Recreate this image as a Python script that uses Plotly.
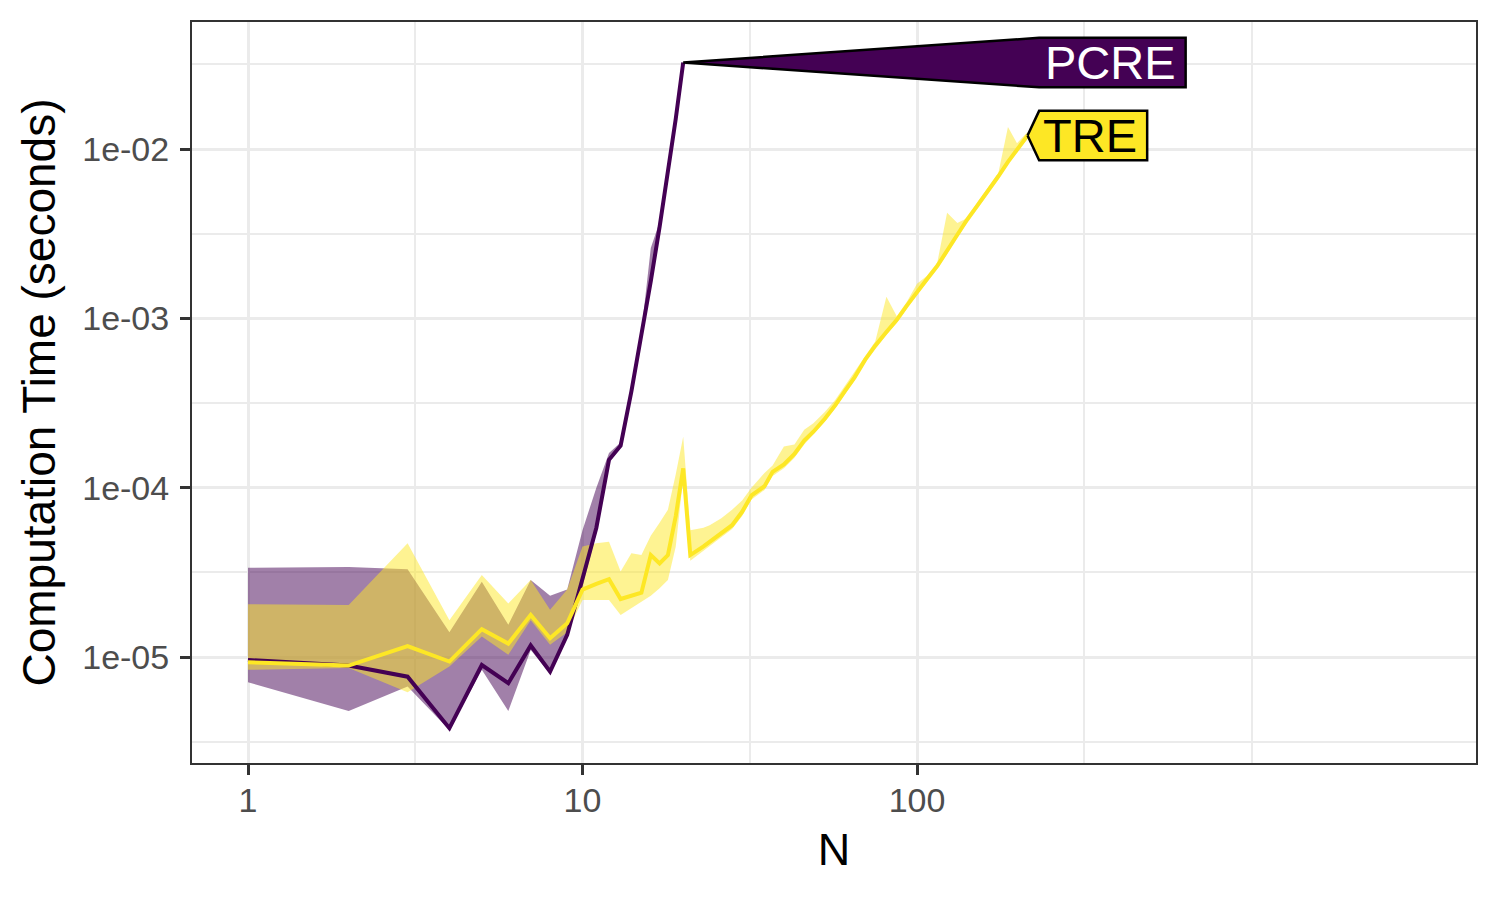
import numpy as np
import plotly.graph_objects as go

# timings (seconds): median with min/max band
n_pcre = [1, 2, 3, 4, 5, 6, 7, 8, 9, 10, 11, 12, 13, 14, 15, 16, 17, 18, 19, 20]
pcre_median = [9.6e-6, 8.9e-6, 7.65e-6, 3.8e-6, 8.97e-6, 7.0e-6, 1.17e-5, 8.2e-6, 1.35e-5, 2.9e-5,
               5.8e-5, 1.46e-4, 1.77e-4, 3.7e-4, 7.8e-4, 1.66e-3, 3.47e-3, 7.2e-3, 1.51e-2, 3.24e-2]
pcre_min = [7.1e-6, 4.8e-6, 6.7e-6, 3.7e-6, 8.4e-6, 4.8e-6, 1.1e-5, 8.0e-6, 1.3e-5, 2.6e-5,
            5.4e-5, 1.42e-4, 1.72e-4, 3.6e-4, 7.6e-4, 1.6e-3, 3.4e-3, 7.0e-3, 1.48e-2, 3.2e-2]
pcre_max = [3.36e-5, 3.4e-5, 3.3e-5, 1.4e-5, 2.78e-5, 1.55e-5, 2.85e-5, 2.3e-5, 2.5e-5, 5.6e-5,
            1.0e-4, 1.6e-4, 1.85e-4, 3.9e-4, 8.3e-4, 2.6e-3, 3.7e-3, 7.5e-3, 1.55e-2, 3.3e-2]

n_tre = [1, 2, 3, 4, 5, 6, 7, 8, 9, 10, 11, 12, 13, 14, 15, 16, 17, 18, 19, 20,
         21, 23, 24, 26, 28, 30, 32, 35, 37, 40, 43, 46, 49, 53, 57, 61, 65, 70, 75, 81,
         87, 93, 100, 107, 115, 123, 132, 141, 152, 163, 175, 187, 199, 214]
tre_median = [9.3e-6, 8.9e-6, 1.16e-5, 9.4e-6, 1.46e-5, 1.2e-5, 1.77e-5, 1.29e-5, 1.58e-5, 2.5e-5,
              2.7e-5, 2.88e-5, 2.2e-5, 2.3e-5, 2.4e-5, 4.0e-5, 3.57e-5, 4.0e-5, 6.8e-5, 1.3e-4,
              4.0e-5, 4.5e-5, 4.8e-5, 5.4e-5, 6.0e-5, 7.2e-5, 9.0e-5, 1.02e-4, 1.24e-4, 1.37e-4,
              1.58e-4, 1.9e-4, 2.14e-4, 2.55e-4, 3.07e-4, 3.74e-4, 4.47e-4, 5.7e-4, 6.9e-4, 8.3e-4,
              9.8e-4, 1.18e-3, 1.44e-3, 1.7e-3, 2.04e-3, 2.5e-3, 3.14e-3, 3.82e-3, 4.68e-3, 5.65e-3,
              6.9e-3, 8.4e-3, 1.0e-2, 1.2e-2]
tre_min = [8.4e-6, 8.6e-6, 6.2e-6, 8.8e-6, 1.32e-5, 1.03e-5, 1.65e-5, 1.18e-5, 1.4e-5, 2.17e-5,
           2.17e-5, 2.17e-5, 1.77e-5, 1.94e-5, 2.12e-5, 2.3e-5, 2.55e-5, 2.85e-5, 4.5e-5, 1.15e-4,
           3.7e-5, 4.2e-5, 4.5e-5, 5.1e-5, 5.7e-5, 6.8e-5, 8.5e-5, 9.7e-5, 1.17e-4, 1.3e-4,
           1.5e-4, 1.8e-4, 2.05e-4, 2.45e-4, 2.95e-4, 3.6e-4, 4.3e-4, 5.5e-4, 6.6e-4, 8.0e-4,
           9.4e-4, 1.13e-3, 1.38e-3, 1.63e-3, 1.96e-3, 2.4e-3, 3.02e-3, 3.67e-3, 4.5e-3, 5.43e-3,
           6.6e-3, 8.1e-3, 9.6e-3, 1.15e-2]
tre_max = [2.05e-5, 2.03e-5, 4.7e-5, 1.65e-5, 3.05e-5, 2.07e-5, 2.85e-5, 1.9e-5, 2.5e-5, 4.5e-5,
           4.7e-5, 4.8e-5, 3.2e-5, 4.1e-5, 4.0e-5, 5.2e-5, 6.2e-5, 7.4e-5, 1.2e-4, 2.0e-4,
           5.6e-5, 5.8e-5, 6.0e-5, 6.6e-5, 7.4e-5, 8.4e-5, 1.0e-4, 1.22e-4, 1.35e-4, 1.75e-4,
           1.8e-4, 2.2e-4, 2.4e-4, 2.8e-4, 3.3e-4, 4.0e-4, 4.8e-4, 6.0e-4, 7.3e-4, 1.34e-3,
           1.03e-3, 1.24e-3, 1.6e-3, 1.78e-3, 2.14e-3, 4.2e-3, 3.65e-3, 3.9e-3, 4.9e-3, 5.9e-3,
           7.2e-3, 1.35e-2, 1.08e-2, 1.26e-2]

x_tick_vals = [1, 10, 100]
x_tick_text = ["1", "10", "100"]
y_tick_vals = [1e-5, 1e-4, 1e-3, 1e-2]
y_tick_text = ["1e-05", "1e-04", "1e-03", "1e-02"]

PCRE_COLOR = "#440154"
TRE_COLOR = "#FDE725"
FONT = "Liberation Sans, Arial, sans-serif"

fig = go.Figure()


def add_ribbon(n, lo, hi, rgba):
    fig.add_trace(go.Scatter(
        x=list(n) + list(n)[::-1],
        y=list(hi) + list(lo)[::-1],
        fill="toself", fillcolor=rgba, mode="lines",
        line=dict(width=0), hoverinfo="skip", showlegend=False))


def add_line(n, y, color):
    fig.add_trace(go.Scatter(x=n, y=y, mode="lines",
                             line=dict(color=color, width=4), showlegend=False))


# polygon labels (directlabels style), placed to the right of the last point
LABEL_LEFT = 2.365  # log10 N of the box left edge
LABEL_HALF = 0.146  # half box height in decades


def add_label(name, n_last, t_last, width, fill, text_color):
    tip_x = np.log10(n_last)
    tip_y = np.log10(t_last)
    x0, x1 = LABEL_LEFT, LABEL_LEFT + width
    y0, y1 = tip_y - LABEL_HALF, tip_y + LABEL_HALF
    xs = np.array([tip_x, x0, x1, x1, x0, tip_x])
    ys = np.array([tip_y, y1, y1, y0, y0, tip_y])
    fig.add_trace(go.Scatter(x=10 ** xs, y=10 ** ys, mode="lines", fill="toself",
                             fillcolor=fill, line=dict(color="black", width=2.5),
                             hoverinfo="skip", showlegend=False))
    fig.add_annotation(x=x1 - 0.024, y=tip_y, xref="x", yref="y", text=name,
                       showarrow=False, xanchor="right", yanchor="middle",
                       font=dict(family=FONT, size=47, color=text_color))


add_ribbon(n_pcre, pcre_min, pcre_max, "rgba(68,1,84,0.5)")
add_ribbon(n_tre, tre_min, tre_max, "rgba(253,231,37,0.5)")
add_line(n_pcre, pcre_median, PCRE_COLOR)
add_line(n_tre, tre_median, TRE_COLOR)
add_label("PCRE", n_pcre[-1], pcre_median[-1], 0.438, PCRE_COLOR, "white")
add_label("TRE", n_tre[-1], tre_median[-1], 0.323, TRE_COLOR, "black")

axis_common = dict(
    showline=True, linecolor="#333333", linewidth=2, mirror=True,
    ticks="outside", ticklen=10, tickwidth=2.5, tickcolor="#333333",
    showgrid=True, gridcolor="#EBEBEB", gridwidth=3, zeroline=False,
    tickfont=dict(family=FONT, size=34, color="#4D4D4D"),
)

fig.update_xaxes(type="log", range=[-0.1674, 3.671],
                 tickvals=x_tick_vals, ticktext=x_tick_text, ticklabelstandoff=-4,
                 minor=dict(tickvals=[10 ** 0.5, 10 ** 1.5, 10 ** 2.5, 1000],
                            showgrid=True, gridcolor="#EBEBEB", gridwidth=1.5, ticklen=0),
                 title=dict(text="N", font=dict(family=FONT, size=45, color="black"), standoff=16),
                 **axis_common)
fig.update_yaxes(type="log", range=[-5.626, -1.250],
                 tickvals=y_tick_vals, ticktext=y_tick_text, ticklabelstandoff=4,
                 minor=dict(tickvals=[10 ** -5.5, 10 ** -4.5, 10 ** -3.5, 10 ** -2.5, 10 ** -1.5],
                            showgrid=True, gridcolor="#EBEBEB", gridwidth=1.5, ticklen=0),
                 title=dict(text="Computation Time (seconds)",
                            font=dict(family=FONT, size=46, color="black"), standoff=12),
                 **axis_common)

# the page body adds an 8px offset, so margins are shifted to land the panel
# at the reference position
fig.update_layout(
    width=1500, height=900,
    margin=dict(l=184, r=32, t=14, b=145),
    plot_bgcolor="white", paper_bgcolor="white",
    showlegend=False,
)

fig.write_html("out.html")
